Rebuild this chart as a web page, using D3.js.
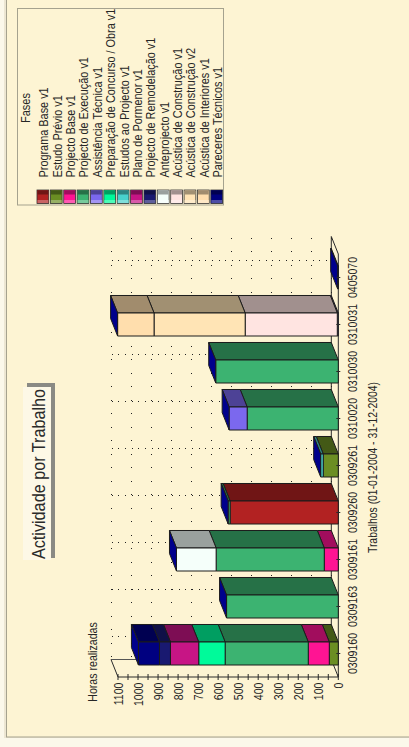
<!DOCTYPE html>
<html><head><meta charset="utf-8">
<script src="https://cdn.jsdelivr.net/npm/d3@7"></script>
<style>html,body{margin:0;padding:0;background:#fff;overflow:hidden}svg{display:block;font-family:"Liberation Sans",Arial,sans-serif}</style>
</head><body><svg id="c" width="409" height="747"></svg>
<script>
const titleText = "Actividade por Trabalho";
const valueTitle = "Horas realizadas";
const categoryTitle = "Trabalhos (01-01-2004 - 31-12-2004)";
const legendTitle = "Fases";
const categories = ["0309160","0309163","0309161","0309260","0309261","0310020","0310030","0310031","0405070"];
const phases = ["Programa Base v1","Estudo Prévio v1","Projecto Base v1","Projecto de Execução v1","Assistência Técnica v1","Preparação de Concurso / Obra v1","Estudos ao Projecto v1","Plano de Pormenor v1","Projecto de Remodelação v1","Anteprojecto v1","Acústica de Construção v1","Acústica de Construção v2","Acústica de Interiores v1","Pareceres Técnicos v1"];
const phaseColors = ["#b22222","#6b8e23","#ff1493","#3cb371","#7b68ee","#00fa9a","#48d1cc","#c71585","#191970","#f5fffa","#ffe4e1","#ffe4b5","#ffdead","#000080"];
const programaBase   = [0,0,0,540,0,0,0,0,0];
const estudoPrevio   = [45,0,0,0,75,0,0,0,0];
const projectoBase   = [105,0,70,0,0,0,0,0,0];
const execucao       = [415,558,540,10,0,455,612,0,0];
const assistencia    = [0,0,0,0,0,90,0,5,0];
const preparacao     = [132,0,0,0,0,0,0,0,0];
const estudosProj    = [0,0,0,0,13,0,0,0,0];
const planoPormenor  = [141,0,0,0,0,0,0,0,0];
const remodelacao    = [55,0,0,0,0,0,0,0,0];
const anteprojecto   = [0,0,198,0,0,0,0,0,0];
const acusticaV1     = [0,0,0,0,0,0,0,460,0];
const acusticaV2     = [0,0,0,0,0,0,0,455,0];
const interiores     = [0,0,0,0,0,0,0,182,0];
const pareceres      = [105,0,0,0,0,0,0,0,3];
const seriesValues = [programaBase,estudoPrevio,projectoBase,execucao,assistencia,preparacao,estudosProj,planoPormenor,remodelacao,anteprojecto,acusticaV1,acusticaV2,interiores,pareceres];
const valueTicks = [0,100,200,300,400,500,600,700,800,900,1000,1100];

const BG="#fdf4d3", INK="#2a2a2a";
const svg=d3.select("#c");
svg.append("rect").attr("width",409).attr("height",747).attr("fill","#fbf8ea");
svg.append("rect").attr("x",4).attr("y",-3).attr("width",420).attr("height",741).attr("fill","#ece6d2");
svg.append("rect").attr("x",6.5).attr("y",-3).attr("width",420).attr("height",740).attr("fill",BG).attr("stroke","#a5a28e").attr("stroke-width",1);

const dx=-7, dy=-17.5;
const x=d3.scaleLinear().domain([0,1100]).range([338.3,118]);
const y=d3.scaleBand().domain(categories).range([677,254]).paddingInner(0.51).paddingOuter(0.255);
const yc=c=>y(c)+y.bandwidth()/2;
const g=svg.append("g");
const line=(x1,y1,x2,y2)=>g.append("line").attr("x1",x1).attr("y1",y1).attr("x2",x2).attr("y2",y2).attr("stroke",INK).attr("stroke-width",1);
const dotted=(x1,y1,x2,y2,st)=>line(Math.round(x1)+.5,Math.round(y1)+.5,Math.round(x2)+.5,Math.round(y2)+.5).attr("stroke-dasharray",st).attr("stroke","#222").attr("shape-rendering","crispEdges");

// back-plane dotted grid
valueTicks.forEach(v=>dotted(x(v)+dx,254+dy,x(v)+dx,677+dy,"1 12.5"));
categories.forEach(c=>dotted(x(1100)+dx,yc(c)+dy,x(0)+dx,yc(c)+dy,"1 5.7"));
// walls
line(x(0)+dx,254+dy,x(0)+dx,677+dy);
line(x(1100)+dx,677+dy,x(0)+dx,677+dy).attr("stroke","#555");
line(x(1100),677,x(1100)+dx,677+dy);
line(x(0),677,x(0)+dx,677+dy);
line(x(0),254,x(0)+dx,254+dy);
line(x(0),254,x(0),677);

// bars
const darken=c=>{const r=d3.rgb(c);return d3.rgb(r.r*.63,r.g*.63,r.b*.63).formatHex();};
const poly=(pts,fill)=>g.append("polygon").attr("points",pts.map(p=>p.join(",")).join(" ")).attr("fill",fill).attr("stroke","#1c1c1c").attr("stroke-width",1).attr("stroke-linejoin","round");
categories.forEach((c,i)=>{
  const y0=y(c), y1=y0+y.bandwidth();
  let acc=0;
  seriesValues.forEach((s,k)=>{
    const v=s[i]; if(!v) return;
    const a=x(acc), b=x(acc+v); acc+=v;
    poly([[a,y0],[b,y0],[b+dx,y0+dy],[a+dx,y0+dy]],darken(phaseColors[k]));
    poly([[a,y0],[b,y0],[b,y1],[a,y1]],phaseColors[k]);
  });
  const e=x(acc);
  poly([[e,y0],[e,y1],[e+dx,y1+dy],[e+dx,y0+dy]],"#00008c");
});

// value axis
const minor=d3.range(0,1101,50);
const axisY=677;
line(x(1100),axisY,x(0),axisY);
minor.forEach(v=>line(x(v),axisY-3,x(v),axisY+3));
const txt=(tx,ty,s,size,anchor,fill,sc)=>svg.append("text").attr("transform",`translate(${tx},${ty}) rotate(-90) scale(1,${sc||1.18})`).attr("text-anchor",anchor||"middle").attr("font-size",size).attr("fill",fill||"#262626").text(s);
valueTicks.forEach(v=>txt(x(v)+4.5,682.5,v,10.6,"end"));
categories.forEach(c=>{line(x(0)-2,yc(c),x(0)+2,yc(c));txt(357,yc(c),c,10.6);});
txt(377,467.5,categoryTitle,10.4);
txt(97,662,valueTitle,10.6);

// title with shadow
svg.append("rect").attr("x",27).attr("y",383).attr("width",28).attr("height",175).attr("fill","#8a8a84");
svg.append("rect").attr("x",23).attr("y",387).attr("width",28).attr("height",173).attr("fill","#fdf8e6");
txt(45,474,titleText,16.2,"middle","#2a2a2a",1.08);

// legend
svg.append("rect").attr("x",17.5).attr("y",8.5).attr("width",206).attr("height",196.5).attr("fill",BG).attr("stroke","#a5a28e");
txt(30,108,legendTitle,11);
const lx=d3.scaleBand().domain(phases).range([37,222.6]).paddingInner(0.12).paddingOuter(0);
phases.forEach((p,k)=>{
  const sx=lx(p), w=lx.bandwidth(), c=phaseColors[k];
  txt(sx+w/2+5.5,177.5,p,10.9,"start");
  const sy=190, sh=13.5;
  svg.append("rect").attr("x",sx).attr("y",sy).attr("width",w).attr("height",sh).attr("fill",c).attr("stroke","#333").attr("stroke-width",.8);
  svg.append("rect").attr("x",sx+.5).attr("y",sy+.5).attr("width",w-1).attr("height",4).attr("fill",darken(c));
  svg.append("rect").attr("x",sx+.5).attr("y",sy+sh-3.5).attr("width",w-1).attr("height",3).attr("fill",d3.interpolateRgb(c,"#ffffff")(.3));
});
</script></body></html>
